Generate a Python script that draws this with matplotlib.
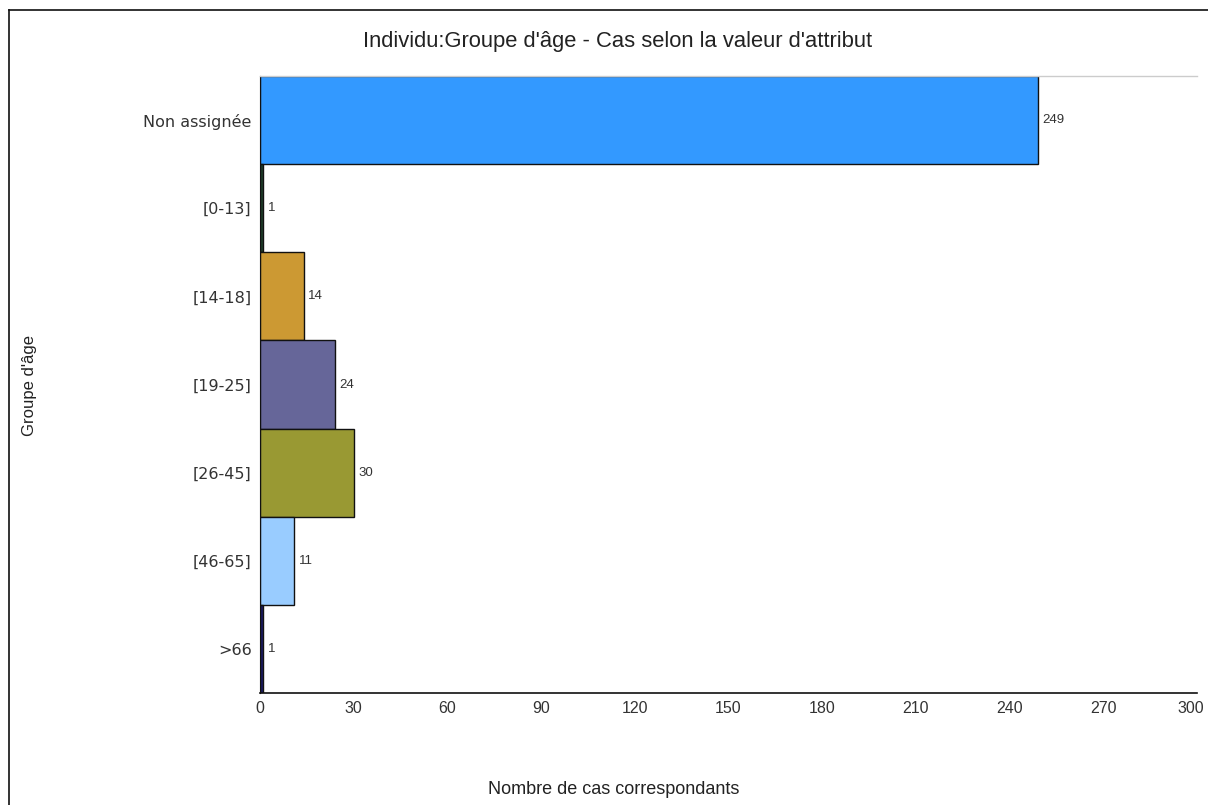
import matplotlib
matplotlib.use("Agg")
import matplotlib.pyplot as plt
from matplotlib.lines import Line2D
from matplotlib.transforms import ScaledTranslation

categories = ["Non assignée", "[0-13]", "[14-18]", "[19-25]", "[26-45]", "[46-65]", ">66"]
counts = [249, 1, 14, 24, 30, 11, 1]
colors = ["#3399FF", "#1F3F2A", "#CC9933", "#666699", "#999933", "#99CCFF", "#1A1A66"]
xticks = list(range(0, 301, 30))

plt.rcParams["font.family"] = ["Liberation Sans", "DejaVu Sans"]

fig = plt.figure(figsize=(12.08, 8.05), dpi=100)
ax = fig.add_axes([260 / 1208, 1 - 693 / 805, 937 / 1208, 617 / 805])

ypos = list(range(len(categories)))
ax.barh(ypos, counts, height=1.0, color=colors, edgecolor="#111111", linewidth=1.0)
ax.set_ylim(len(categories) - 0.5, -0.5)
ax.set_xlim(0, 300)

for y, v in zip(ypos, counts):
    ax.text(v + 1.4, y, str(v), va="center", ha="left", fontsize=9.5, color="#333333")

ax.set_yticks(ypos)
ax.set_yticklabels(categories, fontsize=11.5, color="#333333", family=["DejaVu Sans"])
ax.set_xticks(xticks)
ax.set_xticklabels([str(t) for t in xticks], fontsize=11.5, color="#333333")
ax.tick_params(axis="y", length=0, pad=6)
ax.tick_params(axis="x", length=0, pad=6)

# nudge the last x label so it stays inside the canvas
last = ax.get_xticklabels()[-1]
last.set_transform(last.get_transform() + ScaledTranslation(-0.06, 0, fig.dpi_scale_trans))

ax.spines["right"].set_visible(False)
ax.spines["top"].set_color("#CCCCCC")
ax.spines["top"].set_linewidth(1.0)
ax.spines["left"].set_color("#111111")
ax.spines["bottom"].set_color("#111111")
ax.spines["bottom"].set_linewidth(1.2)

fig.text(618 / 1208, 1 - 42 / 805, "Individu:Groupe d'âge - Cas selon la valeur d'attribut",
         ha="center", va="center", fontsize=15.8, color="#222222")
fig.text(614 / 1208, 1 - 789 / 805, "Nombre de cas correspondants",
         ha="center", va="center", fontsize=13, color="#222222")
fig.text(30 / 1208, 1 - 386 / 805, "Groupe d'âge", rotation=90,
         ha="center", va="center", fontsize=12, color="#222222")

# outer frame of the panel
fig.add_artist(Line2D([9 / 1208, 1], [1 - 10 / 805, 1 - 10 / 805],
                      transform=fig.transFigure, color="#111111", linewidth=1.2))
fig.add_artist(Line2D([9 / 1208, 9 / 1208], [1 - 10 / 805, 0],
                      transform=fig.transFigure, color="#111111", linewidth=1.2))

fig.savefig("out.png", dpi=100, facecolor="white")
